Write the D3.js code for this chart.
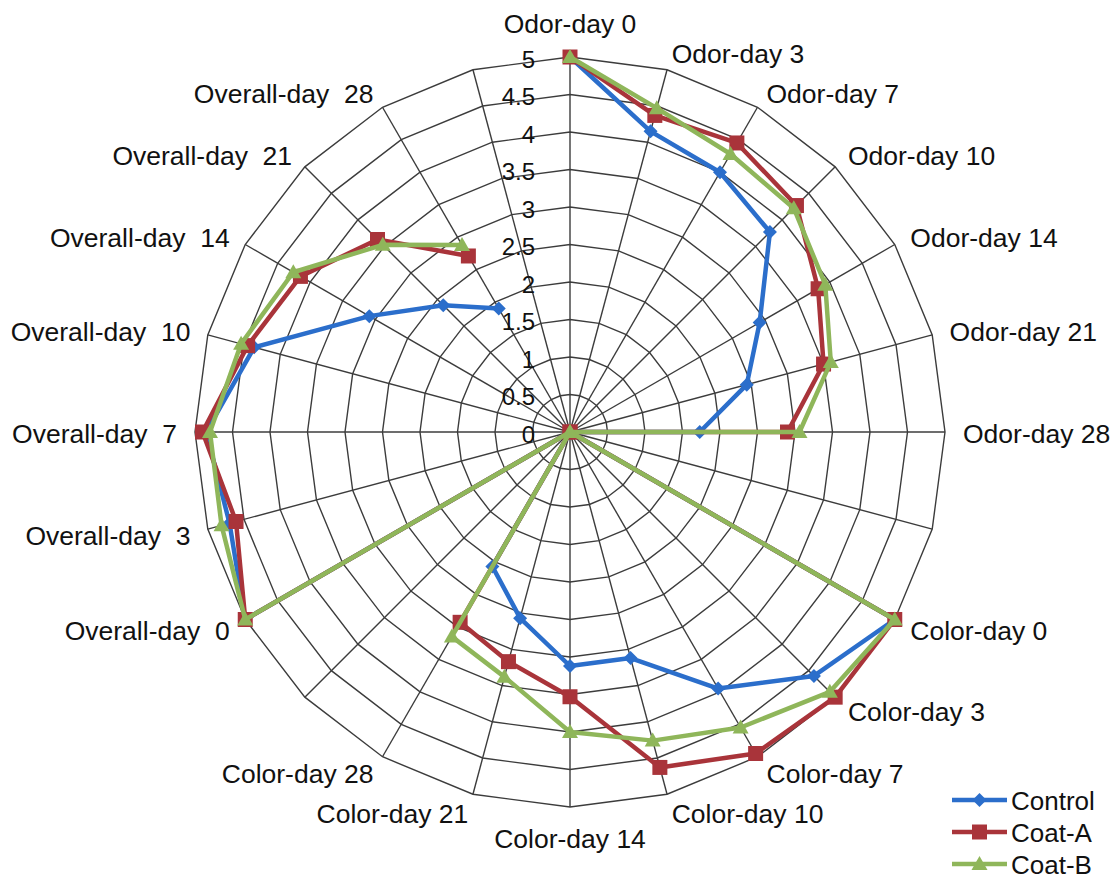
<!DOCTYPE html>
<html>
<head>
<meta charset="utf-8">
<script src="https://cdn.jsdelivr.net/npm/d3@7/dist/d3.min.js"></script>
<style>
  html, body { margin: 0; padding: 0; background: #ffffff; }
  svg { display: block; }
  text { font-family: "Liberation Sans", Arial, sans-serif; fill: #111; white-space: pre; }
</style>
</head>
<body>
<svg id="chart" width="1118" height="883"></svg>
<script>
// ---- data ----
const categories = [
  "Odor-day 0", "Odor-day 3", "Odor-day 7", "Odor-day 10", "Odor-day 14", "Odor-day 21", "Odor-day 28", "",
  "Color-day 0", "Color-day 3", "Color-day 7", "Color-day 10", "Color-day 14", "Color-day 21", "Color-day 28", "",
  "Overall-day  0", "Overall-day  3", "Overall-day  7", "Overall-day  10", "Overall-day  14", "Overall-day  21", "Overall-day  28", ""
];
const seriesNames = ["Control", "Coat-A", "Coat-B"];
const control = [5, 4.15, 4.0, 3.77, 2.92, 2.44, 1.73, 0,
                 5, 4.6, 3.95, 3.12, 3.12, 2.57, 2.07, 0,
                 5, 4.7, 4.85, 4.36, 3.09, 2.39, 1.9, null];
const coatA   = [5, 4.37, 4.45, 4.27, 3.82, 3.5, 2.9, 0,
                 5, 5.0, 4.95, 4.63, 3.53, 3.17, 2.93, 0,
                 5, 4.61, 4.9, 4.45, 4.15, 3.63, 2.71, null];
const coatB   = [5, 4.47, 4.28, 4.22, 3.93, 3.6, 3.06, 0,
                 5, 4.9, 4.55, 4.26, 4.0, 3.38, 3.15, 0,
                 5, 4.81, 4.8, 4.54, 4.26, 3.53, 2.88, null];
const tickValues = [0, 0.5, 1, 1.5, 2, 2.5, 3, 3.5, 4, 4.5, 5];
const tickLabels = ["0", "0.5", "1", "1.5", "2", "2.5", "3", "3.5", "4", "4.5", "5"];

// ---- layout / style ----
const cx = 570, cy = 432, R = 375;
const colors = ["#2b6ecb", "#a9343a", "#8fb65a"];
const markers = ["diamond", "square", "triangle"];

const svg = d3.select("#chart");
const r = d3.scaleLinear().domain([0, 5]).range([0, R]);
const n = categories.length;
const ang = d3.scaleLinear().domain([0, n]).range([0, 2 * Math.PI]);
const px = (i, v) => cx + r(v) * Math.sin(ang(i));
const py = (i, v) => cy - r(v) * Math.cos(ang(i));

const g = svg.append("g");

// grid rings
tickValues.slice(1).forEach(t => {
  const pts = d3.range(n).map(i => [px(i, t), py(i, t)]);
  g.append("polygon")
    .attr("points", pts.map(p => p.join(",")).join(" "))
    .attr("fill", "none").attr("stroke", "#3c3c3c").attr("stroke-width", 1.4);
});
// spokes
d3.range(n).forEach(i => {
  g.append("line")
    .attr("x1", cx).attr("y1", cy)
    .attr("x2", px(i, 5)).attr("y2", py(i, 5))
    .attr("stroke", "#3c3c3c").attr("stroke-width", 1.4);
});

// tick labels
g.selectAll("text.tick").data(tickValues).enter().append("text")
  .attr("class", "tick")
  .attr("x", cx - 35)
  .attr("y", d => cy - r(d) + 2)
  .attr("text-anchor", "end")
  .attr("dominant-baseline", "central")
  .style("font-size", "24px")
  .text((d, i) => tickLabels[i]);

// category labels
const LR = R + 18;
categories.forEach((c, i) => {
  if (!c) return;
  const a = ang(i);
  const s = Math.sin(a), co = Math.cos(a);
  let x = cx + LR * s, y = cy - LR * co;
  let anchor = "middle", base = "central";
  if (s > 0.01) anchor = "start";
  else if (s < -0.01) anchor = "end";
  if (Math.abs(s) <= 0.01) {
    if (co > 0) { base = "auto"; y = cy - R - 24; }
    else { base = "hanging"; y = cy + R + 22; }
  } else {
    y = y + 2;
  }
  g.append("text")
    .attr("x", x).attr("y", y)
    .attr("text-anchor", anchor)
    .attr("dominant-baseline", base)
    .style("font-size", "26.5px")
    .text(c);
});

// marker path
function markerPath(type) {
  if (type === "diamond") return "M0,-7L7,0L0,7L-7,0Z";
  if (type === "square") return "M-7.5,-7.5L7.5,-7.5L7.5,7.5L-7.5,7.5Z";
  return "M0,-8L8,6L-8,6Z";
}

// series
const data = [control, coatA, coatB];
const line = d3.line()
  .defined(d => d.v !== null)
  .x(d => px(d.i, d.v)).y(d => py(d.i, d.v));

data.forEach((vals, k) => {
  const pts = vals.map((v, i) => ({ i, v }));
  g.append("path")
    .attr("d", line(pts))
    .attr("fill", "none")
    .attr("stroke", colors[k])
    .attr("stroke-width", 4.5)
    .attr("stroke-linejoin", "round");
  g.selectAll(null).data(pts.filter(d => d.v !== null)).enter().append("path")
    .attr("d", markerPath(markers[k]))
    .attr("transform", d => `translate(${px(d.i, d.v)},${py(d.i, d.v)})`)
    .attr("fill", colors[k]);
});

// legend
const lg = svg.append("g");
const ly = [800, 832, 864];
seriesNames.forEach((s, k) => {
  lg.append("line")
    .attr("x1", 952).attr("x2", 1007)
    .attr("y1", ly[k]).attr("y2", ly[k])
    .attr("stroke", colors[k]).attr("stroke-width", 4.5);
  lg.append("path")
    .attr("d", markerPath(markers[k]))
    .attr("transform", `translate(979.5,${ly[k]})`)
    .attr("fill", colors[k]);
  lg.append("text")
    .attr("x", 1011).attr("y", ly[k] + 1)
    .attr("dominant-baseline", "central")
    .style("font-size", "26px")
    .text(s);
});
</script>
</body>
</html>
